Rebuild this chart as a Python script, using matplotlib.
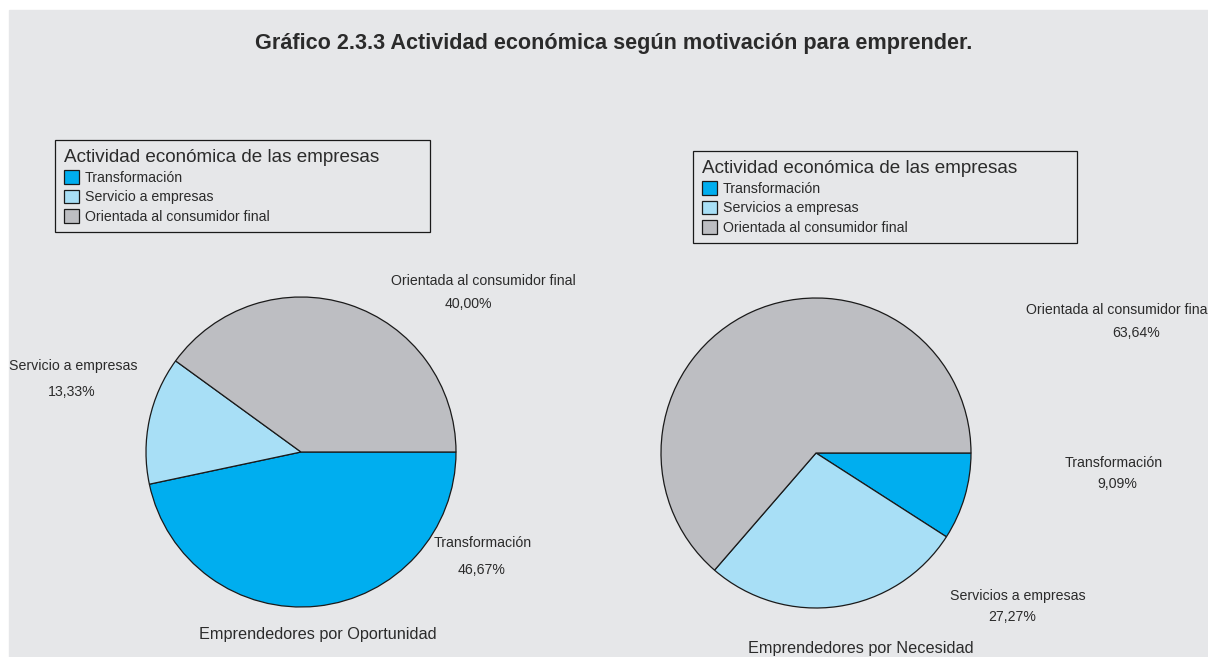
import matplotlib.pyplot as plt
from matplotlib.patches import Rectangle

# ── Data ─────────────────────────────────────────────────────────────────────
TITLE = "Gráfico 2.3.3 Actividad económica según motivación para emprender."
LEGEND_TITLE = "Actividad económica de las empresas"

opp_labels = ["Transformación", "Servicio a empresas", "Orientada al consumidor final"]
opp_values = [46.67, 13.33, 40.00]
opp_name = "Emprendedores por Oportunidad"

nec_labels = ["Transformación", "Servicios a empresas", "Orientada al consumidor final"]
nec_values = [9.09, 27.27, 63.64]
nec_name = "Emprendedores por Necesidad"

# ── Style ────────────────────────────────────────────────────────────────────
COLORS = ["#00AEEF", "#A8DFF6", "#BDBEC2"]
BG = "#E6E7E9"
TEXT = "#2B2B2B"
EDGE = "#1A1A1A"
W, H = 1208, 657

plt.rcParams["font.family"] = ["Liberation Sans", "DejaVu Sans"]

fig = plt.figure(figsize=(W / 100, H / 100), dpi=100, facecolor="white")
ax = fig.add_axes([0, 0, 1, 1])
ax.add_patch(Rectangle((9, 0), W - 9, H - 10, color=BG, zorder=0))


def pct(v):
    return f"{v:.2f}".replace(".", ",") + "%"


def draw_pie(values, labels, center, radius, label_pos, legend_box, name, name_pos):
    wedges, _ = ax.pie(values, colors=COLORS, startangle=0, counterclock=False,
                       center=center, radius=radius,
                       wedgeprops=dict(edgecolor=EDGE, linewidth=0.9))
    # label_pos: (name x, name y, pct x, pct y) in pixels from top-left
    for lab, v, (x, y, px, py) in zip(labels, values, label_pos):
        ax.text(x, H - y, lab, ha="center", va="center", fontsize=10.2, color=TEXT)
        ax.text(px, H - py, pct(v), ha="center", va="center", fontsize=10.2, color=TEXT)
    ax.text(name_pos[0], H - name_pos[1], name, ha="center", va="center",
            fontsize=11.7, color=TEXT)

    x0, y0, x1, y1 = legend_box
    leg = fig.legend(wedges, labels, title=LEGEND_TITLE, loc="upper left",
                     bbox_to_anchor=(x0 / W, 1 - y1 / H, (x1 - x0) / W, (y1 - y0) / H),
                     mode="expand", borderaxespad=0, alignment="left",
                     fontsize=10.2, title_fontsize=13.6, handlelength=1.1,
                     handleheight=1.1, handletextpad=0.4, labelspacing=0.33,
                     borderpad=0.62, fancybox=False, framealpha=1,
                     facecolor=BG, edgecolor=EDGE)
    leg.get_frame().set_linewidth(0.9)
    for t in leg.get_texts():
        t.set_color(TEXT)
    leg.get_title().set_color(TEXT)
    return leg


draw_pie(opp_values, opp_labels, (301, H - 452), 155,
         [(483, 543, 482, 570), (73, 366, 72, 392), (483, 281, 468, 304)],
         (55, 140, 430, 232), opp_name, (318, 634))
draw_pie(nec_values, nec_labels, (816, H - 453), 155,
         [(1114, 463, 1117, 484), (1018, 596, 1012, 617), (1118, 310, 1136, 333)],
         (693, 151, 1077, 243), nec_name, (861, 649))

ax.set_xlim(0, W)
ax.set_ylim(0, H)
ax.set_aspect("auto")
ax.axis("off")

fig.text(0.508, 1 - 44 / H, TITLE, ha="center", va="center", fontsize=15.6,
         fontweight="bold", color=TEXT)

fig.savefig("out.png", dpi=100, facecolor="white")
